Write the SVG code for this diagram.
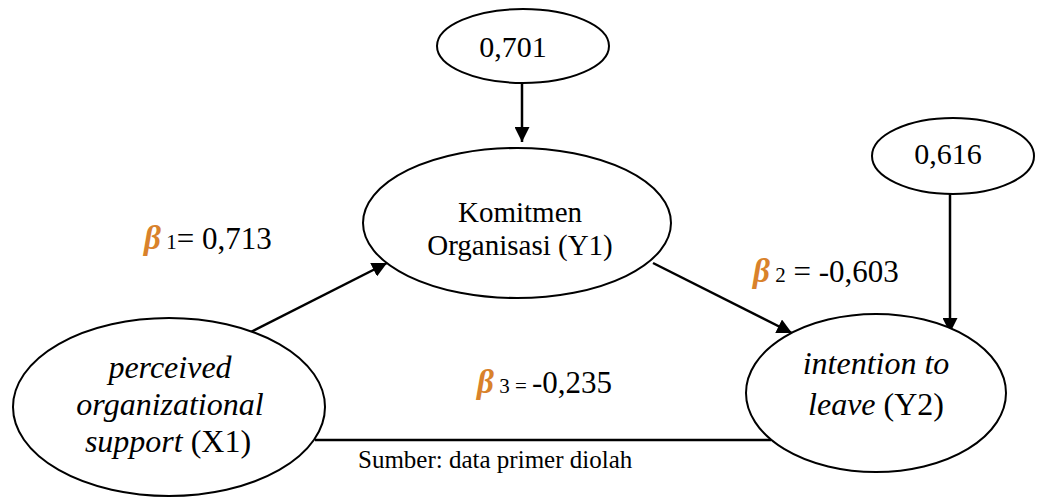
<svg xmlns="http://www.w3.org/2000/svg" width="1038" height="499" viewBox="0 0 1038 499">
<style>
.n{fill:#fff;stroke:#000;stroke-width:2}
.t{font-family:"Liberation Serif","Times New Roman",serif;fill:#000}
.f29{font-size:29px}
.f30{font-size:30px}
.f32{font-size:32px}
.i{font-style:italic}
.c{stroke:#000;stroke-width:2.5;fill:none}
.lb{font-family:"Liberation Serif","Times New Roman",serif;font-size:31px;fill:#000}
.b{font-style:italic;font-weight:bold;fill:#D9822B;font-size:33px}
.s{font-size:21px}
</style>
<defs>
<marker id="ah" viewBox="0 0 10 10" refX="10" refY="5" markerWidth="6" markerHeight="6" markerUnits="strokeWidth" orient="auto">
<path d="M0,0 L10,5 L0,10 z" fill="#000"/>
</marker>
</defs>
<g id="connectors">
<line class="c" x1="522" y1="83" x2="522" y2="142" marker-end="url(#ah)"/>
<line class="c" x1="950" y1="194" x2="950" y2="333" marker-end="url(#ah)"/>
<line class="c" x1="245" y1="335" x2="387" y2="263" marker-end="url(#ah)"/>
<line class="c" x1="653" y1="263" x2="792" y2="333" marker-end="url(#ah)"/>
<line class="c" x1="315" y1="440" x2="771" y2="440"/>
</g>
<g id="e1"><ellipse class="n" cx="523" cy="46" rx="86" ry="37"/><text class="t f30" x="513" y="57" text-anchor="middle">0,701</text></g>
<g id="e2"><ellipse class="n" cx="953" cy="156" rx="81" ry="38"/><text class="t f30" x="948" y="164" text-anchor="middle">0,616</text></g>
<g id="y1"><ellipse class="n" cx="517" cy="223" rx="154" ry="75"/>
<text class="t f29" x="520" y="222" text-anchor="middle">Komitmen</text>
<text class="t f29" x="520" y="255" text-anchor="middle">Organisasi (Y1)</text></g>
<g id="y2"><ellipse class="n" cx="876" cy="393" rx="130" ry="79"/>
<text class="t f32" x="876" y="374" text-anchor="middle"><tspan class="i">intention to</tspan></text>
<text class="t f32" x="876" y="415" text-anchor="middle"><tspan class="i">leave</tspan> (Y2)</text></g>
<g id="x1"><ellipse class="n" cx="169" cy="407" rx="156" ry="89"/>
<text class="t f32" x="170" y="378" text-anchor="middle"><tspan class="i">perceived</tspan></text>
<text class="t f32" x="170" y="415" text-anchor="middle"><tspan class="i">organizational</tspan></text>
<text class="t f32" x="168" y="452" text-anchor="middle"><tspan class="i">support</tspan> (X1)</text></g>
<g id="labels">
<text class="lb" x="144" y="249"><tspan class="b">β</tspan><tspan class="s"> 1</tspan>= 0,713</text>
<text class="lb" x="753" y="282"><tspan class="b">β</tspan><tspan class="s"> 2</tspan> = -0,603</text>
<text class="lb" x="477" y="393"><tspan class="b">β</tspan><tspan class="s"> 3 = </tspan>-0,235</text>
<text class="lb" x="358" y="468" style="font-size:25px">Sumber: data primer diolah</text>
</g>
</svg>
